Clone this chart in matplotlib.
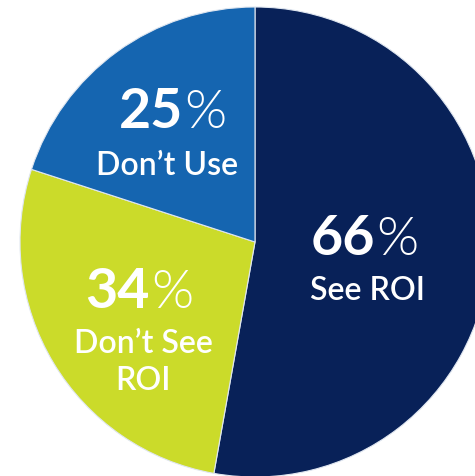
import matplotlib.pyplot as plt

# Data
labels = [["See ROI"], ["Don\u2019t See", "ROI"], ["Don\u2019t Use"]]
numbers = ["66", "34", "25"]
sizes = [52.8, 27.2, 20.0]   # wedge sizes as drawn in the picture
colors = ["#082158", "#CBDB2A", "#1565B0"]

W, H = 475, 477
fig = plt.figure(figsize=(W / 100, H / 100), dpi=100)
ax = fig.add_axes([0, 0, 1, 1])

ax.pie(sizes, colors=colors, startangle=90, counterclock=False,
       center=(255, H - 243), radius=235,
       wedgeprops=dict(edgecolor="#dfe6f0", linewidth=0.8))
ax.set_xlim(0, W)
ax.set_ylim(0, H)
ax.set_aspect("equal")
ax.axis("off")

# label layout: (split x of number/percent, number baseline, label center x, first label baseline)
layout = [(375, 255, 368, 300), (150, 308, 143, 353), (183, 128, 167, 175)]
font = ["Lato", "DejaVu Sans"]
for num, lines, (sx, nb, lx, lb) in zip(numbers, labels, layout):
    ax.text(sx, H - nb, num, ha="right", va="baseline", color="white",
            fontsize=40, fontweight="bold", family=font)
    ax.text(sx + 1, H - nb, "%", ha="left", va="baseline", color="white",
            fontsize=39, fontweight=300, family=font)
    for i, line in enumerate(lines):
        ax.text(lx, H - lb - 37 * i, line, ha="center", va="baseline",
                color="white", fontsize=23, fontweight="semibold",
                family=font)

fig.savefig("out.png", dpi=100)
